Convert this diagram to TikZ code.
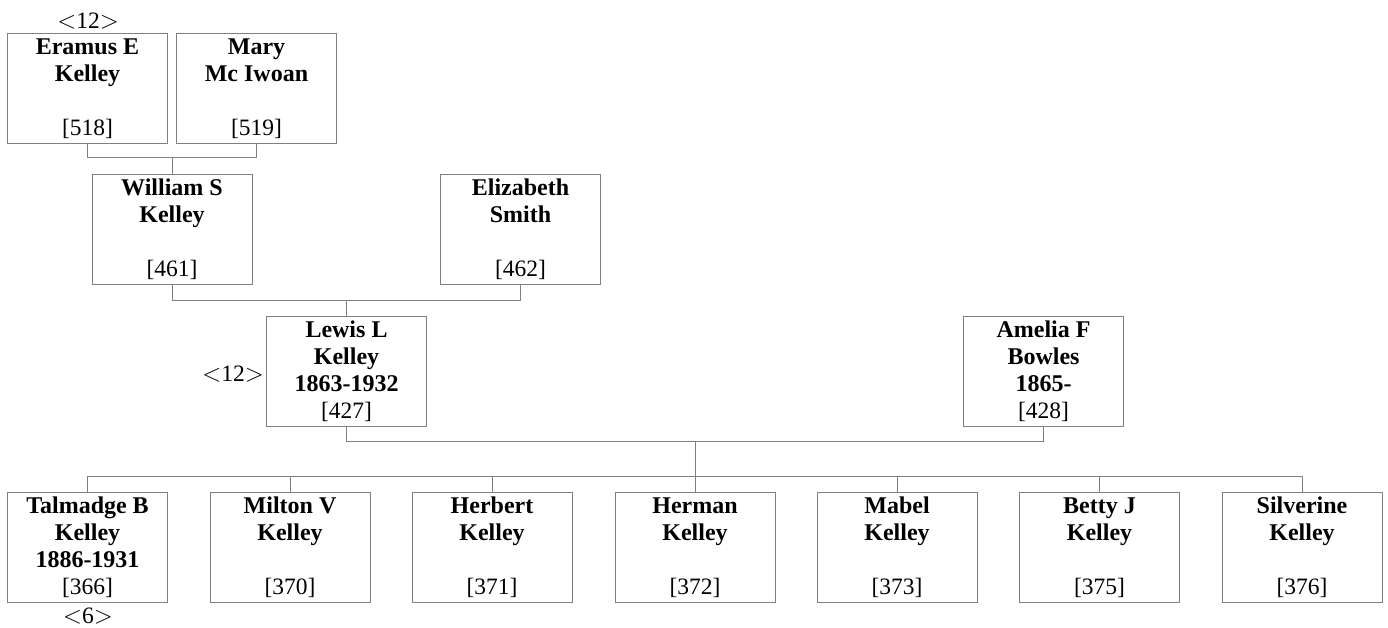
\documentclass[tikz,border=0pt]{standalone}
\usepackage{fontspec}
\setmainfont{Liberation Serif}
\definecolor{boxline}{RGB}{128,128,128}
\tikzset{
  pbox/.style={draw=boxline, line width=1pt, rectangle, minimum width=160pt, minimum height=110pt, inner sep=0pt},
  nm/.style={font=\fontsize{24}{27}\selectfont\bfseries, inner sep=0pt, anchor=base},
  num/.style={font=\fontsize{23.5}{27}\selectfont, inner sep=0pt, anchor=base},
  conn/.style={draw=boxline, line width=1pt},
}
\newcommand\person[5]{%
  \node[pbox] (#1) at (#2,#3+55) {};
  \foreach \t [count=\i] in {#4} {
    \node[nm] (#1-l\i) at ({#2},{#3+21+27*(\i-1)}) {\t};
  }
  \node[num] (#1-n) at (#2,#3+102) {[#5]};
}
\newcommand\lt{\ensuremath{<}}
\newcommand\gtr{\ensuremath{>}}
\begin{document}
\begin{tikzpicture}[x=1pt,y=-1pt]
\useasboundingbox (0,0) rectangle (1388,627);
\person{eramus}{87.5}{33}{Eramus E,Kelley}{518}
\person{mary}{256.5}{33}{Mary,Mc Iwoan}{519}
\person{william}{172}{174}{William S,Kelley}{461}
\person{elizabeth}{520.5}{174}{Elizabeth,Smith}{462}
\person{lewis}{346.5}{316}{Lewis L,Kelley,1863-1932}{427}
\person{amelia}{1043.5}{316}{Amelia F,Bowles,1865-}{428}
\person{talmadge}{87.5}{492}{Talmadge B,Kelley,1886-1931}{366}
\person{milton}{290}{492}{Milton V,Kelley}{370}
\person{herbert}{492}{492}{Herbert,Kelley}{371}
\person{herman}{695}{492}{Herman,Kelley}{372}
\person{mabel}{897}{492}{Mabel,Kelley}{373}
\person{betty}{1099.5}{492}{Betty J,Kelley}{375}
\person{silverine}{1302}{492}{Silverine,Kelley}{376}

\node[num] (ann1) at (88,28) {\lt12\gtr};
\node[num] (ann2) at (233,381) {\lt12\gtr};
\node[num] (ann3) at (88,623) {\lt6\gtr};

% connectors
\draw[conn] (eramus.south) -- ++(0,14) coordinate (b1) -| (mary.south);
\draw[conn] (william.north) -- (william.north |- b1);
\draw[conn] (william.south) -- ++(0,16) coordinate (b2) -| (elizabeth.south);
\draw[conn] (lewis.north) -- (lewis.north |- b2);
\draw[conn] (lewis.south) -- ++(0,15) coordinate (b3) -| (amelia.south);
\coordinate (j3) at (695,441);
\coordinate (cb) at (695,476);
\draw[conn] (j3) -- (cb);
\draw[conn] (talmadge.north) -- (talmadge.north |- cb) -- (silverine.north |- cb) -- (silverine.north);
\foreach \c in {milton,herbert,herman,mabel,betty} {
  \draw[conn] (\c.north) -- (\c.north |- cb);
}
\end{tikzpicture}
\end{document}
